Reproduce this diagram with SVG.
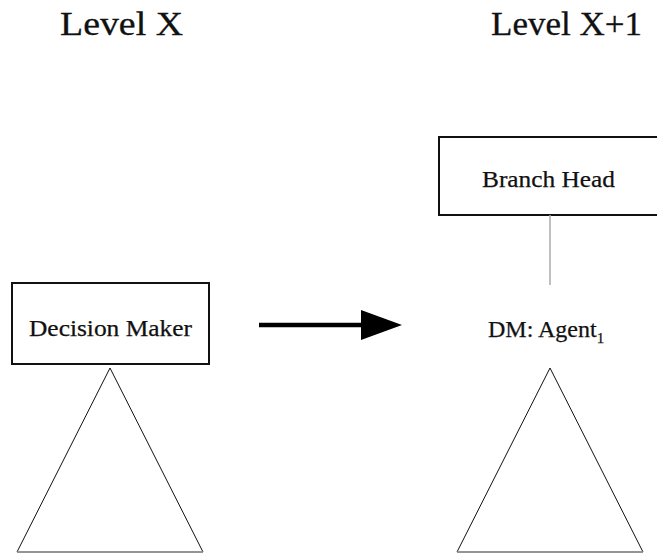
<svg xmlns="http://www.w3.org/2000/svg" width="657" height="554" viewBox="0 0 657 554">
<style>
.title{font-family:"Liberation Serif",serif;font-size:34px;fill:#111;stroke:#111;stroke-width:0.3}
.lbl{font-family:"Liberation Serif",serif;font-size:24px;fill:#111;stroke:#111;stroke-width:0.25}
.box{fill:#fff;stroke:#111;stroke-width:2}
.tri{fill:#fff;stroke:#111;stroke-width:1}
.base{stroke:#999;stroke-width:1.5}
</style>
<rect width="657" height="554" fill="#fff"/>
<g id="title-x"><text class="title" x="60" y="35" textLength="123" lengthAdjust="spacingAndGlyphs">Level X</text></g>
<g id="title-x1"><text class="title" x="491" y="35" textLength="151" lengthAdjust="spacingAndGlyphs">Level X+1</text></g>
<g id="decision-maker">
<rect class="box" x="12" y="283" width="197" height="81"/>
<text class="lbl" x="110.5" y="336" text-anchor="middle" textLength="163" lengthAdjust="spacingAndGlyphs">Decision Maker</text>
</g>
<g id="tree-left">
<polygon class="tri" points="110,368 17,552 203,552"/>
<line class="base" x1="17" y1="552" x2="203" y2="552"/>
</g>
<g id="branch-head">
<rect class="box" x="439" y="137" width="220" height="78"/>
<text class="lbl" x="548.5" y="187" text-anchor="middle" textLength="133" lengthAdjust="spacingAndGlyphs">Branch Head</text>
</g>
<g id="dm-agent">
<text class="lbl" x="488" y="337">DM: Agent<tspan font-size="15" dy="6">1</tspan></text>
</g>
<g id="tree-right">
<polygon class="tri" points="550,368 457,552 643,552"/>
<line class="base" x1="457" y1="552" x2="643" y2="552"/>
</g>
<g id="connectors">
<line x1="550" y1="215" x2="550" y2="285" stroke="#aaa" stroke-width="1.5"/>
<line x1="259" y1="325" x2="363" y2="325" stroke="#000" stroke-width="4.5"/>
<polygon points="361,310 402,325 361,340" fill="#000"/>
</g>
</svg>
